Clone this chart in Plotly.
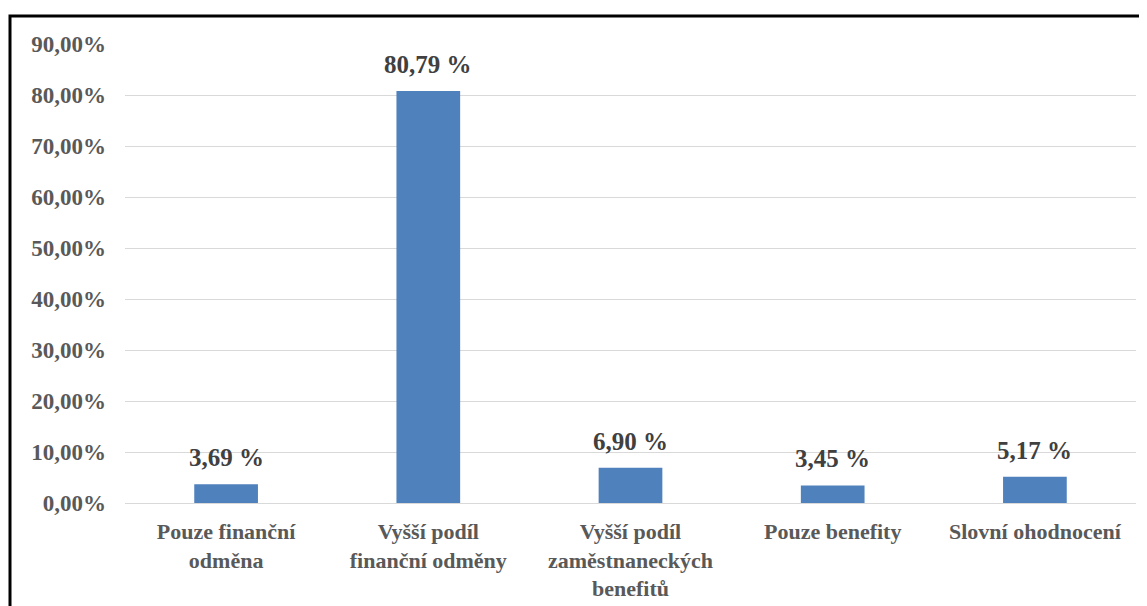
import plotly.graph_objects as go

categories = ["Pouze finanční<br>odměna", "Vyšší podíl<br>finanční odměny",
              "Vyšší podíl<br>zaměstnaneckých<br>benefitů", "Pouze benefity",
              "Slovní ohodnocení"]
values = [3.69, 80.79, 6.90, 3.45, 5.17]
value_labels = ["3,69 %", "80,79 %", "6,90 %", "3,45 %", "5,17 %"]
tick_vals = [0, 10, 20, 30, 40, 50, 60, 70, 80, 90]
tick_text = ["0,00%", "10,00%", "20,00%", "30,00%", "40,00%", "50,00%",
             "60,00%", "70,00%", "80,00%", "90,00%"]

# page body has an 8px offset
OFF = 8
W, H = 1147 - OFF, 606 - OFF
L, R, T = 125 - OFF, 11, 44 - OFF
B = H - (503 - OFF)

fig = go.Figure()
fig.add_trace(go.Bar(x=categories, y=values, marker=dict(color="#4f81bd", line=dict(width=0)),
                     width=0.315, hoverinfo="skip"))

for c, v, t in zip(categories, values, value_labels):
    fig.add_annotation(x=c, y=v, text=t, showarrow=False, yanchor="bottom", yshift=11,
                       font=dict(family="Liberation Serif", size=25, color="#404040", weight="bold"))

pw = W - L - R
ph = H - T - B
fig.add_shape(type="rect", xref="paper", yref="paper",
              x0=(10 - 125) / pw, x1=(1155 - 125) / pw,
              y0=(503 - 615) / ph, y1=(503 - 16) / ph,
              line=dict(color="black", width=3), fillcolor="rgba(0,0,0,0)", layer="above")

fig.update_layout(
    width=W, height=H,
    margin=dict(l=L, r=R, t=T, b=B, pad=0, autoexpand=False),
    paper_bgcolor="white", plot_bgcolor="white",
    showlegend=False,
    font=dict(family="Liberation Serif", color="#595959"),
    bargap=0.68,
    xaxis=dict(tickfont=dict(family="Liberation Serif", size=22, color="#595959", weight="bold"),
               showgrid=False, showline=False, ticks="", tickangle=0, ticklabelstandoff=13,
               automargin=False),
    yaxis=dict(range=[0, 90], tickvals=tick_vals, ticktext=tick_text,
               tickfont=dict(family="Liberation Serif", size=23, color="#595959", weight="bold"),
               showgrid=True, gridcolor="#d9d9d9", gridwidth=1, zeroline=True,
               zerolinecolor="#d9d9d9", zerolinewidth=1, ticks="", ticklabelstandoff=18,
               automargin=False),
)

fig.write_html("out.html", config={"responsive": False})
